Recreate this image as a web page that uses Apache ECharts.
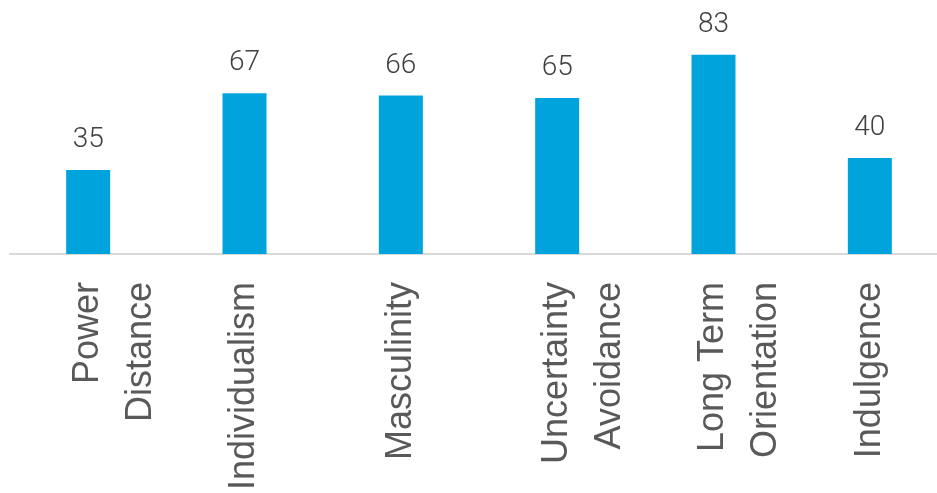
<!DOCTYPE html>
<html lang="en">
<head>
    <meta charset="UTF-8">
    <title>Dimensions</title>
    <script src="https://cdn.jsdelivr.net/npm/echarts@6/dist/echarts.min.js"></script>
    <style>
        html, body { margin: 0; padding: 0; background: #fff; }
        #main { width: 937px; height: 493px; }
    </style>
</head>
<body>
<div id="main"></div>
<script>
    // categories (two-word names wrap onto a second line)
    var categories = ['Power\nDistance', 'Individualism', 'Masculinity',
        'Uncertainty\nAvoidance', 'Long Term\nOrientation', 'Indulgence'];
    var scores = [35, 67, 66, 65, 83, 40];

    var myChart = echarts.init(document.getElementById('main'));

    var option = {
        animation: false,
        grid: {
            left: 10,
            top: 14,
            width: 938,
            bottom: 239,
            containLabel: false,
            outerBoundsMode: 'none'
        },
        xAxis: {
            type: 'category',
            data: categories,
            axisLine: {lineStyle: {color: '#d9d9d9', width: 2}},
            axisTick: {show: false},
            axisLabel: {
                interval: 0,
                rotate: 90,
                margin: 28,
                color: '#595959',
                fontFamily: 'Liberation Sans',
                fontSize: 36,
                lineHeight: 53,
                // keep the first line centred on the tick
                formatter: function (v) {
                    return v.indexOf('\n') >= 0 ? ' \n' + v : v;
                }
            }
        },
        yAxis: {
            type: 'value',
            min: 0,
            max: 100,
            show: false,
            splitLine: {show: false}
        },
        series: [{
            type: 'bar',
            data: scores,
            barWidth: 44,
            itemStyle: {color: '#00a3dc'},
            label: {
                show: true,
                position: 'top',
                distance: 16,
                color: '#404040',
                fontFamily: 'Roboto',
                fontWeight: 300,
                fontSize: 28
            }
        }]
    };
    myChart.setOption(option);
</script>
</body>
</html>
